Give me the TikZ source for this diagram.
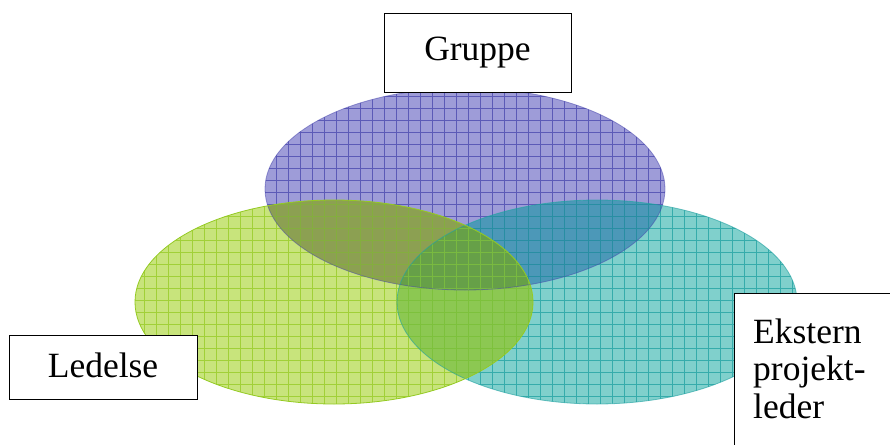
\documentclass[tikz,border=0pt]{standalone}
\usepackage{fontspec}
\setmainfont{Liberation Serif}
\definecolor{pfill}{HTML}{9E9CD8}
\definecolor{pgrid}{HTML}{4644AC}
\definecolor{gfill}{HTML}{C8E47C}
\definecolor{ggrid}{HTML}{94CA22}
\definecolor{tfill}{HTML}{80D0CC}
\definecolor{tgrid}{HTML}{1EA0A0}
\definecolor{pgfill}{HTML}{8CA052}
\definecolor{ptfill}{HTML}{4C98B8}
\definecolor{gtfill}{HTML}{8CC852}
\definecolor{pgtfill}{HTML}{66A048}
\tikzset{
  labelbox/.style={draw=black, line width=1.4pt, fill=white},
  lbltext/.style={font=\fontsize{35.5}{40}\selectfont, inner sep=0pt},
  gridlines/.style={line width=0.7pt, draw opacity=0.75, step=12pt},
  outline/.style={line width=0.8pt},
}
\newcommand{\ellP}{(465,189) ellipse [x radius=200, y radius=101]}
\newcommand{\ellG}{(334,302) ellipse [x radius=199, y radius=102]}
\newcommand{\ellT}{(597,302) ellipse [x radius=200, y radius=102]}
\begin{document}
\begin{tikzpicture}[x=1pt,y=-1pt]
\useasboundingbox (0,0) rectangle (890,444);
% base fills
\fill[pfill] \ellP;
\fill[tfill] \ellT;
\fill[gfill] \ellG;
% overlaps
\begin{scope}\clip \ellP; \fill[pgfill] \ellG; \end{scope}
\begin{scope}\clip \ellP; \fill[ptfill] \ellT; \end{scope}
\begin{scope}\clip \ellG; \fill[gtfill] \ellT; \end{scope}
\begin{scope}\clip \ellP; \clip \ellG; \fill[pgtfill] \ellT; \end{scope}
% grids
\begin{scope}\clip \ellP; \draw[pgrid, gridlines] (0,0) grid (890pt,-444pt); \end{scope}
\begin{scope}\clip \ellT; \draw[tgrid, gridlines] (0,0) grid (890pt,-444pt); \end{scope}
\begin{scope}\clip \ellG; \draw[ggrid, gridlines] (0,0) grid (890pt,-444pt); \end{scope}
% outlines
\draw[pgrid, outline, draw opacity=0.5] \ellP;
\draw[tgrid, outline, draw opacity=0.6] \ellT;
\draw[ggrid, outline] \ellG;
% labels
\node[labelbox, minimum width=187pt, minimum height=79pt, anchor=north west] (gruppe) at (384,13) {};
\node[lbltext, anchor=base] (gtext) at (477.5,60) {Gruppe};
\node[labelbox, minimum width=188pt, minimum height=64pt, anchor=north west] (ledelse) at (9,335) {};
\node[lbltext, anchor=base] (ltext) at (103,377) {Ledelse};
\node[labelbox, minimum width=170pt, minimum height=170pt, anchor=north west] (ekstern) at (734,293) {};
\node[lbltext, anchor=base west] (e1) at (753,343) {Ekstern};
\node[lbltext, anchor=base west] (e2) at (753,380) {projekt-};
\node[lbltext, anchor=base west] (e3) at (753,418) {leder};
\end{tikzpicture}
\end{document}
